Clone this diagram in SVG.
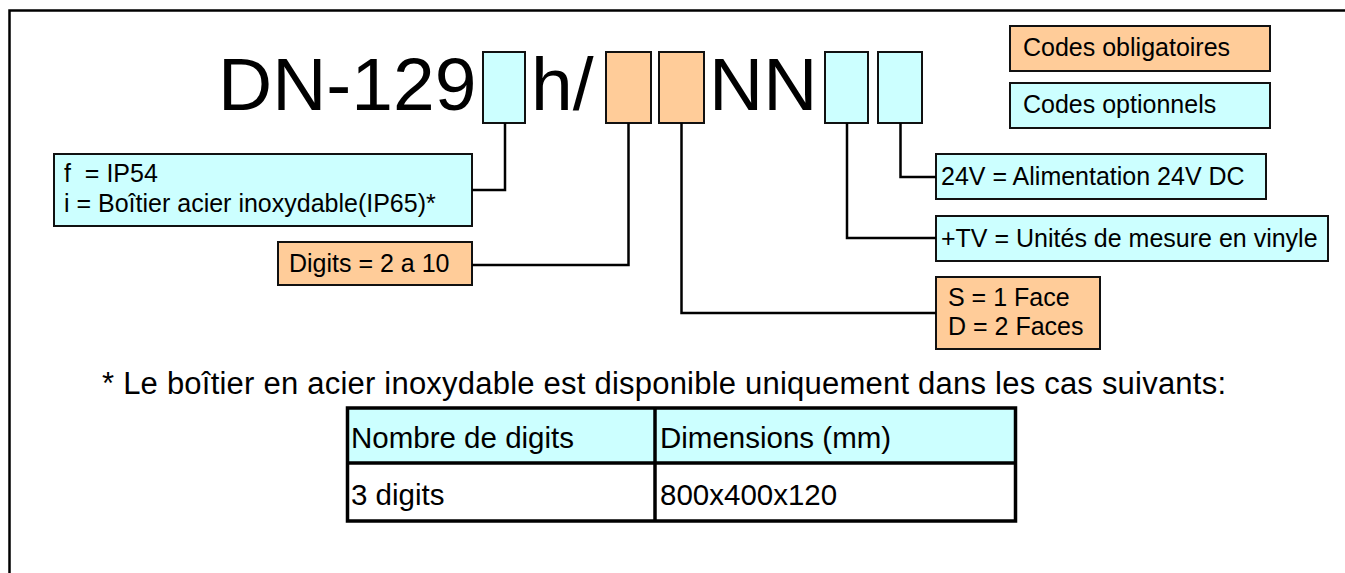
<svg xmlns="http://www.w3.org/2000/svg" width="1345" height="573" viewBox="0 0 1345 573">
<style>
  text { font-family: "Liberation Sans", Arial, sans-serif; fill: #000; white-space: pre; }
  .cy { fill: #CCFFFF; stroke: #111; stroke-width: 2; }
  .or { fill: #FFCC99; stroke: #111; stroke-width: 2; }
  .t25 { font-size: 25px; }
  .big { font-size: 75px; }
  .conn { fill: none; stroke: #000; stroke-width: 2.5; }
  .tbl { fill: none; stroke: #000; stroke-width: 3.5; }
</style>
<rect x="0" y="0" width="1345" height="573" fill="#fff"/>
<rect x="9.5" y="10.5" width="1400" height="620" fill="none" stroke="#000" stroke-width="2.5"/>

<g id="code">
  <text class="big" x="218" y="110">DN-129</text>
  <text class="big" x="531" y="110">h/</text>
  <text class="big" x="709" y="110">NN</text>
</g>
<g id="slot-housing"><rect class="cy" x="483" y="52" width="42" height="71"/></g>
<g id="slot-digits"><rect class="or" x="606" y="52" width="45" height="71"/></g>
<g id="slot-faces"><rect class="or" x="659" y="52" width="45" height="71"/></g>
<g id="slot-tv"><rect class="cy" x="825" y="52" width="43" height="71"/></g>
<g id="slot-24v"><rect class="cy" x="878" y="52" width="44" height="71"/></g>

<g id="legend-mandatory">
  <rect class="or" x="1010" y="26" width="260" height="45"/>
  <text class="t25" x="1023" y="56">Codes obligatoires</text>
</g>
<g id="legend-optional">
  <rect class="cy" x="1010" y="83" width="260" height="45"/>
  <text class="t25" x="1023" y="113">Codes optionnels</text>
</g>

<g id="box-housing">
  <rect class="cy" x="54" y="154" width="418" height="72"/>
  <text class="t25" x="64" y="182">f  = IP54</text>
  <text class="t25" x="64" y="212">i = Boîtier acier inoxydable(IP65)*</text>
</g>
<g id="box-digits">
  <rect class="or" x="278" y="242" width="194" height="43"/>
  <text class="t25" x="289" y="272">Digits = 2 a 10</text>
</g>
<g id="box-24v">
  <rect class="cy" x="936" y="154" width="330" height="45"/>
  <text class="t25" x="941" y="185">24V = Alimentation 24V DC</text>
</g>
<g id="box-tv">
  <rect class="cy" x="936" y="216" width="392" height="45"/>
  <text class="t25" x="941" y="247">+TV = Unités de mesure en vinyle</text>
</g>
<g id="box-faces">
  <rect class="or" x="936" y="277" width="164" height="72"/>
  <text class="t25" x="948" y="306">S = 1 Face</text>
  <text class="t25" x="948" y="335">D = 2 Faces</text>
</g>

<g id="connectors">
  <path class="conn" d="M505,123 V190 H472"/>
  <path class="conn" d="M628.5,123 V265 H472"/>
  <path class="conn" d="M681.5,123 V313 H936"/>
  <path class="conn" d="M847,123 V238 H936"/>
  <path class="conn" d="M900.5,123 V177 H936"/>
</g>

<g id="footnote">
  <text x="102" y="394" font-size="31" textLength="1124">* Le boîtier en acier inoxydable est disponible uniquement dans les cas suivants:</text>
</g>

<g id="table">
  <rect x="347.5" y="408" width="668" height="55" fill="#CCFFFF"/>
  <rect x="347.5" y="463" width="668" height="58" fill="#fff"/>
  <rect class="tbl" x="347.5" y="408" width="668" height="113"/>
  <line class="tbl" x1="347.5" y1="463" x2="1015.5" y2="463"/>
  <line class="tbl" x1="655" y1="408" x2="655" y2="521"/>
  <text x="351" y="448" font-size="29.5">Nombre de digits</text>
  <text x="660" y="448" font-size="29.5">Dimensions (mm)</text>
  <text x="351" y="505" font-size="29.5">3 digits</text>
  <text x="660" y="505" font-size="29.5">800x400x120</text>
</g>
</svg>
